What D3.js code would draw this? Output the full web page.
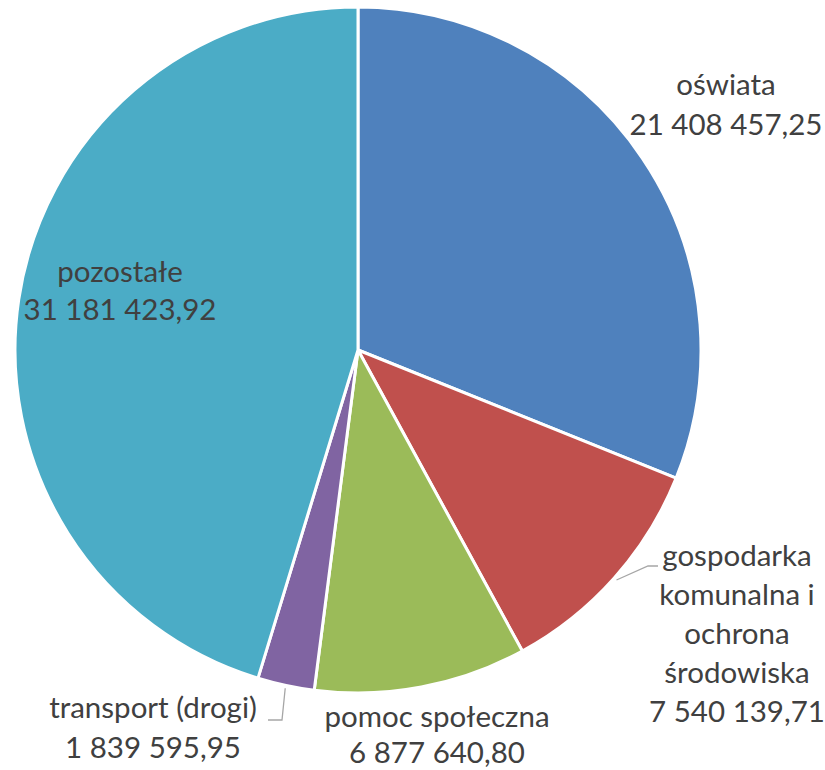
<!DOCTYPE html>
<html><head><meta charset="utf-8">
<script src="https://cdn.jsdelivr.net/npm/d3@7"></script>
<style>html,body{margin:0;padding:0;background:#fff;}</style>
</head><body>
<script>
const categories = ["oświata", "gospodarka komunalna i ochrona środowiska", "pomoc społeczna", "transport (drogi)", "pozostałe"];
const values = [21408457.25, 7540139.71, 6877640.80, 1839595.95, 31181423.92];
const valueLabels = ["21 408 457,25", "7 540 139,71", "6 877 640,80", "1 839 595,95", "31 181 423,92"];
const labelLines = [["oświata"], ["gospodarka", "komunalna i", "ochrona", "środowiska"], ["pomoc społeczna"], ["transport (drogi)"], ["pozostałe"]];
const colors = ["#4f81bd", "#c0504d", "#9bbb59", "#8064a2", "#4bacc6"];

// layout
const W = 825, H = 770, cx = 358, cy = 350, R = 343;
const labelPos = [
  {x: 726, y: 95, lh: 40},
  {x: 737, y: 566, lh: 39},
  {x: 437, y: 727, lh: 36},
  {x: 153, y: 718, lh: 40},
  {x: 120, y: 282, lh: 38}
];
const leaders = {1: {elbow: [648, 566], end: [658, 566]}, 3: {elbow: [282, 720], end: [268, 720]}};

const svg = d3.select("body").append("svg").attr("width", W).attr("height", H);
const g = svg.append("g").attr("transform", `translate(${cx},${cy})`);
const pie = d3.pie().sort(null).value(d => d);
const arcs = pie(values);
const arc = d3.arc().innerRadius(0).outerRadius(R);

g.selectAll("path.slice").data(arcs).join("path")
  .attr("class", "slice")
  .attr("d", arc)
  .attr("fill", (d, i) => colors[i])
  .attr("stroke", "#fff").attr("stroke-width", 3).attr("stroke-linejoin", "round");

// leader lines
Object.keys(leaders).forEach(k => {
  const a = arcs[+k];
  const mid = (a.startAngle + a.endAngle) / 2;
  const r0 = R + 3;
  const sx = cx + r0 * Math.sin(mid), sy = cy - r0 * Math.cos(mid);
  const L = leaders[k];
  svg.append("polyline")
    .attr("points", [[sx, sy], L.elbow, L.end].map(p => p.join(",")).join(" "))
    .attr("fill", "none").attr("stroke", "#a6a6a6").attr("stroke-width", 1.3);
});

// labels
const fontSize = 29.5;
categories.forEach((c, i) => {
  const p = labelPos[i];
  const lines = labelLines[i].concat([valueLabels[i]]);
  const t = svg.append("text")
    .attr("text-anchor", "middle")
    .attr("font-family", "Lato, 'Open Sans', sans-serif")
    .attr("font-size", fontSize)
    .attr("fill", "#404040");
  lines.forEach((ln, j) => {
    t.append("tspan").attr("x", p.x).attr("y", p.y + j * p.lh).text(ln);
  });
});
</script>
</body></html>
